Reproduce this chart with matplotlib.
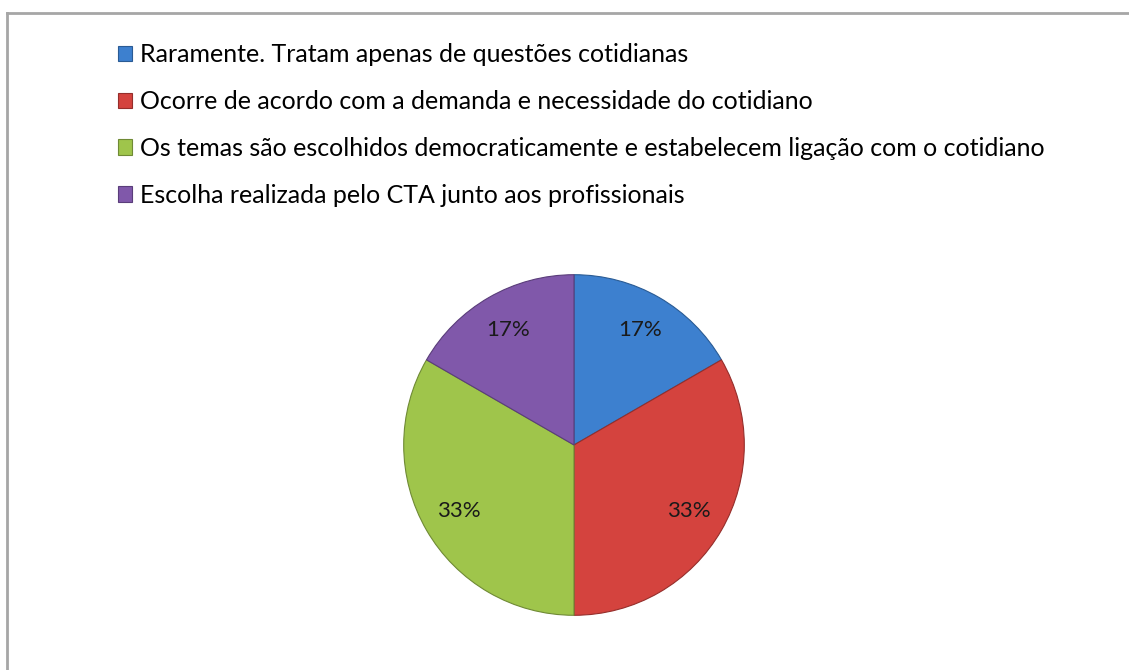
import matplotlib
matplotlib.use("Agg")
import matplotlib.pyplot as plt

categories = [
    "Raramente. Tratam apenas de questões cotidianas",
    "Ocorre de acordo com a demanda e necessidade do cotidiano",
    "Os temas são escolhidos democraticamente e estabelecem ligação com o cotidiano",
    "Escolha realizada pelo CTA junto aos profissionais",
]
counts = [1, 2, 2, 1]
colors = ["#3d80cf", "#d4433e", "#9fc54b", "#8058aa"]
edge_colors = ["#2a5b94", "#952e2b", "#6f8a35", "#5a3d7a"]

W, H = 1129, 670
fig = plt.figure(figsize=(W / 100, H / 100), dpi=100)
fig.patch.set_facecolor("white")

# chart frame (top and left edges visible)
fig.add_artist(plt.Line2D([7 / W, 7 / W], [0, 1 - 13 / H], transform=fig.transFigure,
                          color="#a6a6a6", lw=2))
fig.add_artist(plt.Line2D([7 / W, 1], [1 - 13 / H, 1 - 13 / H], transform=fig.transFigure,
                          color="#a6a6a6", lw=2))

cx, cy, r = 574, 445, 172
ax = fig.add_axes([(cx - r) / W, (H - cy - r) / H, 2 * r / W, 2 * r / H])
wedges, texts, autotexts = ax.pie(
    counts, colors=colors, startangle=90, counterclock=False,
    autopct="%.0f%%", pctdistance=0.78, radius=1.0,
    wedgeprops=dict(linewidth=0.8),
    textprops=dict(fontsize=16, family="Lato", color="#1a1a1a"),
)
for w, ec in zip(wedges, edge_colors):
    w.set_edgecolor(ec)
ax.set_xlim(-1.01, 1.01)
ax.set_ylim(-1.01, 1.01)
ax.set_aspect("equal")
ax.axis("off")

# legend
leg = fig.legend(
    wedges, categories, loc="upper left",
    bbox_to_anchor=(95 / W, 1 - 21 / H),
    frameon=False, prop=dict(family="Lato", size=18),
    handlelength=0.58, handleheight=0.58, handletextpad=0.3,
    labelspacing=0.95,
)
for h, c, ec in zip(leg.legend_handles, colors, edge_colors):
    h.set_facecolor(c)
    h.set_edgecolor(ec)

fig.savefig("out.png", dpi=100, facecolor="white")
